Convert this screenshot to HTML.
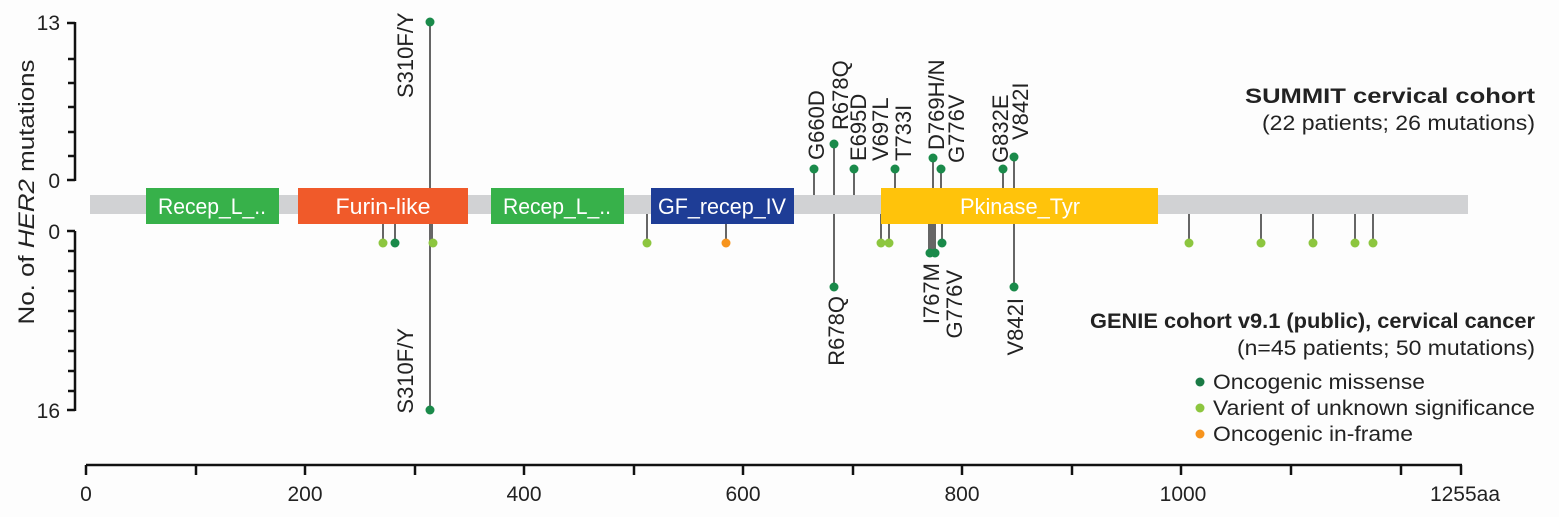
<!DOCTYPE html>
<html><head><meta charset="utf-8"><style>
html,body{margin:0;padding:0;background:#fdfdfd;}
svg{display:block;font-family:"Liberation Sans",Arial,sans-serif;}
</style></head><body>
<svg width="1559" height="517" viewBox="0 0 1559 517" xmlns="http://www.w3.org/2000/svg">
<rect width="1559" height="517" fill="#fdfdfd"/>
<g stroke="#111" stroke-width="2.5" fill="none">
<path d="M75 22 V181"/>
<path d="M67 23 H75 M68 59 H75 M68 83 H75 M68 107 H75 M68 132 H75 M68 156 H75 M67 180 H75"/>
<path d="M75 231 V411"/>
<path d="M67 231 H75 M68 251 H75 M68 271 H75 M68 291 H75 M68 311 H75 M68 331 H75 M68 351 H75 M68 371 H75 M68 391 H75 M67 410 H75"/>
</g>
<g font-size="21" fill="#222" text-anchor="end">
<text x="60" y="30">13</text>
<text x="60" y="188">0</text>
<text x="60" y="239">0</text>
<text x="60" y="418">16</text>
</g>
<text transform="translate(34 192) rotate(-90)" text-anchor="middle" font-size="22" fill="#222" textLength="265" lengthAdjust="spacingAndGlyphs">No. of <tspan font-style="italic">HER2</tspan> mutations</text>
<g stroke="#111" stroke-width="2.5">
<path d="M86 465 H1462"/>
<path d="M86 465 V475 M196 465 V475 M305 465 V475 M415 465 V475 M524 465 V475 M634 465 V475 M743 465 V475 M853 465 V475 M962 465 V475 M1072 465 V475 M1181 465 V475 M1291 465 V475 M1401 465 V475 M1461 465 V475"/>
</g>
<g font-size="21" fill="#222" text-anchor="middle">
<text x="86" y="501">0</text>
<text x="305" y="501">200</text>
<text x="524" y="501">400</text>
<text x="743" y="501">600</text>
<text x="962" y="501">800</text>
<text x="1183" y="501">1000</text>
<text x="1465" y="501">1255aa</text>
</g>
<rect x="90" y="195" width="1378" height="19" fill="#d1d2d4"/>
<g stroke="#666" stroke-width="2">
<path d="M430 22 V195"/>
<path d="M814 169 V195 M834 144 V195 M854 169 V195 M895 169 V195 M933 158 V195 M941 169 V195 M1003 169 V195 M1014 157 V195"/>
<path d="M430 214 V410 M432 214 V243 M383 214 V243 M395 214 V243 M647 214 V243 M726 214 V243 M881 214 V243 M889 214 V243 M929 214 V253 M931 214 V253 M933 214 V253 M935 214 V253 M942 214 V243 M834 214 V287 M1014 214 V287 M1189 214 V243 M1261 214 V243 M1313 214 V243 M1355 214 V243 M1373 214 V243"/>
</g>
<g font-size="22" fill="#fff" text-anchor="middle">
<rect x="146" y="188" width="133" height="36" fill="#37b14a"/><text x="212" y="214" textLength="108" lengthAdjust="spacingAndGlyphs">Recep_L_..</text>
<rect x="298" y="188" width="170" height="36" fill="#f05a2a"/><text x="383" y="214" textLength="95" lengthAdjust="spacingAndGlyphs">Furin-like</text>
<rect x="491" y="188" width="133" height="36" fill="#37b14a"/><text x="557" y="214" textLength="108" lengthAdjust="spacingAndGlyphs">Recep_L_..</text>
<rect x="651" y="188" width="143" height="36" fill="#1e3d96"/><text x="722" y="214" textLength="128" lengthAdjust="spacingAndGlyphs">GF_recep_IV</text>
<rect x="881" y="188" width="277" height="36" fill="#ffc30b"/><text x="1020" y="214" textLength="120" lengthAdjust="spacingAndGlyphs">Pkinase_Tyr</text>
</g>
<g fill="#1a8a4a">
<circle cx="430" cy="22" r="4.5"/><circle cx="814" cy="169" r="4.5"/><circle cx="834" cy="144" r="4.5"/><circle cx="854" cy="169" r="4.5"/><circle cx="895" cy="169" r="4.5"/><circle cx="933" cy="158" r="4.5"/><circle cx="941" cy="169" r="4.5"/><circle cx="1003" cy="169" r="4.5"/><circle cx="1014" cy="157" r="4.5"/>
<circle cx="430" cy="410" r="4.5"/><circle cx="395" cy="243" r="4.5"/><circle cx="930" cy="253" r="4.5"/><circle cx="935" cy="253" r="4.5"/><circle cx="942" cy="243" r="4.5"/><circle cx="834" cy="287" r="4.5"/><circle cx="1014" cy="287" r="4.5"/>
</g>
<g fill="#8dc63f">
<circle cx="383" cy="243" r="4.5"/><circle cx="433" cy="243" r="4.5"/><circle cx="647" cy="243" r="4.5"/><circle cx="881" cy="243" r="4.5"/><circle cx="889" cy="243" r="4.5"/><circle cx="1189" cy="243" r="4.5"/><circle cx="1261" cy="243" r="4.5"/><circle cx="1313" cy="243" r="4.5"/><circle cx="1355" cy="243" r="4.5"/><circle cx="1373" cy="243" r="4.5"/>
</g>
<circle cx="726" cy="243" r="4.5" fill="#f7941d"/>
<g font-size="22" fill="#222">
<text transform="translate(413 98) rotate(-90)">S310F/Y</text>
<text transform="translate(824 160) rotate(-90)">G660D</text>
<text transform="translate(848 130) rotate(-90)">R678Q</text>
<text transform="translate(866 161) rotate(-90)">E695D</text>
<text transform="translate(888 161) rotate(-90)">V697L</text>
<text transform="translate(911 161) rotate(-90)">T733I</text>
<text transform="translate(944 150) rotate(-90)">D769H/N</text>
<text transform="translate(964 163) rotate(-90)">G776V</text>
<text transform="translate(1008 163) rotate(-90)">G832E</text>
<text transform="translate(1028 140) rotate(-90)">V842I</text>
<g text-anchor="end">
<text transform="translate(413 328) rotate(-90)">S310F/Y</text>
<text transform="translate(844 296) rotate(-90)">R678Q</text>
<text transform="translate(939 263) rotate(-90)">I767M</text>
<text transform="translate(962 270) rotate(-90)">G776V</text>
<text transform="translate(1023 298) rotate(-90)">V842I</text>
</g>
</g>
<g text-anchor="end" fill="#222" font-size="21">
<text x="1535" y="103" font-weight="bold" textLength="290" lengthAdjust="spacingAndGlyphs">SUMMIT cervical cohort</text>
<text x="1535" y="130" textLength="273" lengthAdjust="spacingAndGlyphs">(22 patients; 26 mutations)</text>
<text x="1535" y="328" font-weight="bold" textLength="445" lengthAdjust="spacingAndGlyphs">GENIE cohort v9.1 (public), cervical cancer</text>
<text x="1535" y="355" textLength="298" lengthAdjust="spacingAndGlyphs">(n=45 patients; 50 mutations)</text>
</g>
<g font-size="21" fill="#222">
<circle cx="1200" cy="382" r="4.5" fill="#1a7a45"/><text x="1213" y="389" textLength="212" lengthAdjust="spacingAndGlyphs">Oncogenic missense</text>
<circle cx="1200" cy="408" r="4.5" fill="#8dc63f"/><text x="1213" y="415" textLength="322" lengthAdjust="spacingAndGlyphs">Varient of unknown significance</text>
<circle cx="1200" cy="434" r="4.5" fill="#f7941d"/><text x="1213" y="441" textLength="200" lengthAdjust="spacingAndGlyphs">Oncogenic in-frame</text>
</g>
</svg>
</body></html>
